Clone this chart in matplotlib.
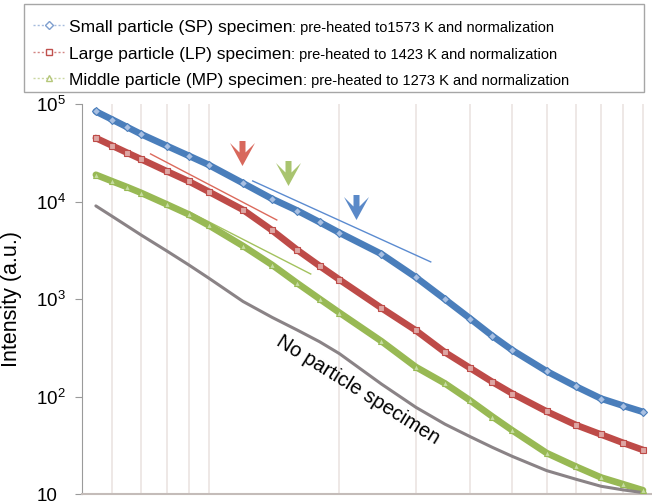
import matplotlib
matplotlib.use("Agg")
import matplotlib.pyplot as plt
from matplotlib.path import Path
from matplotlib.lines import Line2D
from matplotlib.patches import Rectangle
from matplotlib.ticker import FixedLocator, NullFormatter, FixedFormatter

plt.rcParams['font.family'] = ['Liberation Sans', 'DejaVu Sans']
plt.rcParams['mathtext.fontset'] = 'custom'
plt.rcParams['mathtext.rm'] = 'Liberation Sans'

# scattering vector and intensities (a.u.)
q = [0.055, 0.06, 0.065, 0.07, 0.08, 0.09, 0.10, 0.12, 0.14, 0.16, 0.18, 0.20,
     0.25, 0.30, 0.35, 0.40, 0.45, 0.50, 0.60, 0.70, 0.80, 0.90, 1.00]
sp = [84300, 69500, 58100, 49200, 37500, 29600, 23900, 15500, 10700, 8110, 6180, 4810,
      2910, 1680, 1000, 634, 421, 301, 183, 128, 96, 81, 70]
lp = [45000, 37500, 31700, 27200, 20600, 16200, 12700, 8260, 5090, 3200, 2200, 1590,
      812, 479, 286, 197, 142, 108, 70.8, 51.5, 41.1, 33.7, 28.5]
mp = [18900, 16200, 14100, 12300, 9420, 7410, 5730, 3520, 2250, 1460, 1010, 729,
      371, 202, 137, 91.6, 62.7, 45.3, 26.5, 19.3, 14.9, 12.7, 11.0]
no_particle = [9060, 7070, 5620, 4540, 3140, 2250, 1650, 949, 652, 483, 367, 277,
               135, 78, 52.4, 39, 30.3, 24.5, 17.5, 14.3, 12.1, 11.1, 10.4]

legend_main = ['Small particle (SP) specimen',
               'Large particle (LP) specimen',
               'Middle particle (MP) specimen']
legend_note = [': pre-heated to1573 K and normalization',
               ': pre-heated to 1423 K and normalization',
               ': pre-heated to 1273 K and normalization']

ytick_vals = [10, 1e2, 1e3, 1e4, 1e5]
ytick_text = ['10', r'$\mathregular{10^{2}}$', r'$\mathregular{10^{3}}$',
              r'$\mathregular{10^{4}}$', r'$\mathregular{10^{5}}$']
xgrid = [0.06, 0.07, 0.08, 0.09, 0.1, 0.2, 0.3, 0.4, 0.5, 0.6, 0.7, 0.8, 0.9, 1.0]

# guide lines (start, end) and arrow marks
guides = {
    'red':   ([0.0735, 0.1435], [30900, 6500]),
    'green': ([0.0904, 0.1718], [7850, 1815]),
    'blue':  ([0.1263, 0.3246], [16330, 2415]),
}
arrow_q = [0.1196, 0.1527, 0.2189]
arrow_I = [31600, 19700, 8850]

blue, red, green, grey = '#4a7ebb', '#be4b48', '#98b954', '#8a8386'

fig = plt.figure(figsize=(6.52, 5.04), dpi=100)
ax = fig.add_axes([82 / 652, 1 - 494.3 / 504, 570 / 652, 390.1 / 504])

ax.set_xscale('log')
ax.set_yscale('log')
ax.set_xlim(0.0511, 1.049)
ax.set_ylim(10, 1e5)

# the four curves
for vals, col, mk, face in [(sp, blue, 'D', '#a9c0e2'), (lp, red, 's', '#dea6a4'),
                            (mp, green, '^', '#c6dca2')]:
    ax.plot(q, vals, color=col, lw=4.8, solid_capstyle='round',
            solid_joinstyle='round', zorder=3)
    ax.plot(q, vals, ls='none', marker=mk, ms=3.8, mfc=face, mec=col, mew=0.8, zorder=4)
ax.plot(q, no_particle, color=grey, lw=2.2, solid_capstyle='round',
        solid_joinstyle='round', zorder=3)

# thin guide lines
ax.plot(*guides['red'], color='#dc6a5c', lw=1)
ax.plot(*guides['green'], color='#a3c25e', lw=1)
ax.plot(*guides['blue'], color='#5b8bd0', lw=1)

# down arrows
arrow = Path([(-3, 12.5), (3, 12.5), (3, 1), (12.5, 10.5), (0, -12.5),
              (-12.5, 10.5), (-3, 1), (-3, 12.5)], closed=True)
for xq, yi, col in zip(arrow_q, arrow_I, ['#d8685c', '#a9c46f', '#5a89c8']):
    ax.plot([xq], [yi], marker=arrow, ms=18, color=col, mec='none', ls='none', zorder=5)

ax.text(0.2205, 117, 'No particle specimen', rotation=-32, rotation_mode='anchor',
        ha='center', va='center', fontsize=14.5)

# axes styling
ax.xaxis.set_major_locator(FixedLocator(xgrid))
ax.xaxis.set_minor_locator(FixedLocator([]))
ax.xaxis.set_major_formatter(NullFormatter())
ax.tick_params(axis='x', length=0)
ax.grid(axis='x', color='#ebe4e1', lw=1.2, zorder=0)

ax.yaxis.set_major_locator(FixedLocator(ytick_vals))
ax.yaxis.set_major_formatter(FixedFormatter(ytick_text))
ax.yaxis.set_minor_locator(FixedLocator([]))
ax.tick_params(axis='y', length=5, color='#9a9a9a', labelsize=13.5, pad=28)
for lbl in ax.get_yticklabels():
    lbl.set_ha('left')

for s in ['top', 'right']:
    ax.spines[s].set_visible(False)
ax.spines['left'].set_color('#9a9a9a')
ax.spines['bottom'].set_color('#c4bcb9')
ax.spines['bottom'].set_linewidth(1.5)

ax.set_ylabel('Intensity (a.u.)', fontsize=15.5)
ax.yaxis.set_label_coords(-0.105, 0.5)

# legend drawn by hand (two font sizes in each entry)
W, H = 652, 504
fig.add_artist(Rectangle((24 / W, 1 - 92 / H), 620 / W, 88 / H, transform=fig.transFigure,
                         facecolor='white', edgecolor='#a6a6a6', lw=1))
renderer = fig.canvas.get_renderer()
leg_style = [('#7f9fcf', 'D'), ('#c0504d', 's'), ('#b5c77a', '^')]
for i, (main, note) in enumerate(zip(legend_main, legend_note)):
    base = 32 + 26.5 * i
    mid = base - 7
    col, mk = leg_style[i]
    fig.add_artist(Line2D([33 / W, 64 / W], [1 - mid / H] * 2, transform=fig.transFigure,
                          color=col, lw=1, ls=(0, (1.5, 1.5)), alpha=0.7))
    fig.add_artist(Line2D([48.5 / W], [1 - mid / H], transform=fig.transFigure,
                          marker=mk, ms=4, mfc='white', mec=col, mew=1))
    t = fig.text(69 / W, 1 - base / H, main, fontsize=12.5, va='baseline')
    bb = t.get_window_extent(renderer)
    fig.text(bb.x1 / W, 1 - base / H, note, fontsize=10.5, va='baseline')

fig.savefig('out.png', dpi=100)
